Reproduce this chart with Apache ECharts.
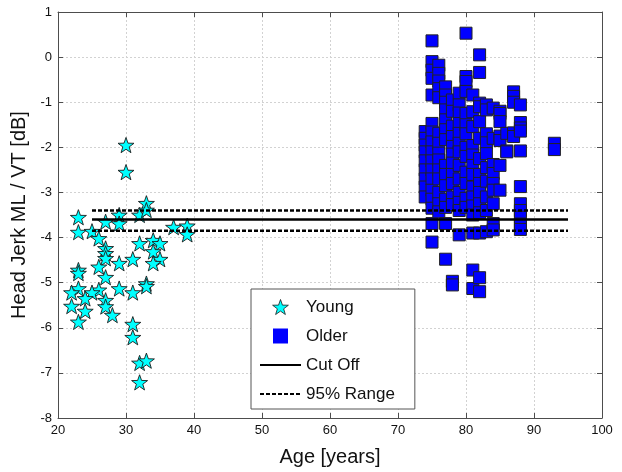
<!DOCTYPE html>
<html>
<head>
<meta charset="utf-8">
<title>Head Jerk vs Age</title>
<script src="https://cdn.jsdelivr.net/npm/echarts@6/dist/echarts.min.js"></script>
<style>
  html, body { margin: 0; padding: 0; background: #fff; }
  #main { width: 622px; height: 472px; }
</style>
</head>
<body>
<div id="main"></div>
<script>
// young subjects: age and value
var youngAges = [23, 23, 25, 27, 29, 29, 32, 33, 33, 37, 39, 39, 26, 27, 27, 27, 32, 34, 35, 34, 35, 34, 31, 29, 26,
  23, 23, 27, 33, 33, 29, 31, 26, 25, 23, 22, 24, 27, 27, 28, 22, 24, 23, 31, 31, 32, 33, 32, 30, 30];
var youngValues = [-3.55, -3.88, -3.86, -3.65, -3.50, -3.69, -3.50, -3.24, -3.39, -3.77, -3.74, -3.93, -4.02, -4.24, -4.35,
  -4.46, -4.13, -4.06, -4.13, -4.31, -4.48, -4.57, -4.48, -4.57, -4.65, -4.72, -4.79, -4.88, -5.02, -5.08, -5.13, -5.22,
  -5.16, -5.22, -5.13, -5.22, -5.35, -5.39, -5.53, -5.72, -5.52, -5.63, -5.87, -5.92, -6.21, -6.78, -6.73, -7.21, -1.95, -2.55];

// older subjects, values grouped by age
var olderAges = [74, 75, 76, 77, 78, 79, 80, 81, 82, 83, 84, 85, 86, 87, 88, 93];
var olderValues = [
  [-1.65, -1.8, -1.95, -2.1, -2.3, -2.5, -2.7, -2.88, -3.1],
  [0.36, -0.10, -0.29, -0.47, -0.84, -1.47, -1.66, -1.88, -2.1, -2.3, -2.5, -2.7, -2.95, -3.15, -3.35, -3.69, -4.1],
  [-0.18, -0.36, -0.53, -0.7, -0.9, -1.69, -1.91, -2.13, -2.28, -2.5, -2.7, -3.0, -3.25, -3.43],
  [-0.66, -0.84, -1.0, -1.17, -1.39, -1.61, -1.83, -2.4, -2.6, -2.85, -3.15, -3.33, -3.69, -4.48],
  [-0.95, -1.2, -1.53, -1.76, -1.98, -2.15, -2.35, -2.6, -2.8, -3.1, -3.27, -4.97, -5.05],
  [-0.80, -1.06, -1.24, -1.47, -1.69, -1.91, -2.1, -2.4, -2.7, -3.0, -3.22, -3.4, -3.94],
  [0.53, -0.43, -0.54, -0.76, -1.25, -1.5, -1.7, -2.0, -2.2, -2.55, -2.8, -3.13, -3.33],
  [-0.84, -1.21, -1.54, -1.96, -2.17, -2.4, -2.6, -2.88, -3.1, -3.3, -3.5, -3.9, -4.72, -5.13],
  [0.05, -0.34, -1.02, -1.1, -1.43, -1.8, -2.25, -2.6, -2.8, -3.0, -3.25, -3.45, -3.9, -4.89, -5.2],
  [-1.06, -1.17, -1.7, -1.9, -2.14, -2.45, -2.75, -3.1, -3.4, -3.87],
  [-1.13, -1.8, -2.38, -2.58, -2.8, -2.95, -3.25, -3.69, -3.83],
  [-1.2, -1.25, -1.43, -1.75, -1.85, -2.4, -2.95],
  [-1.69, -2.08, -2.1],
  [-0.77, -0.87, -1.0, -1.68, -1.76],
  [-1.06, -1.45, -1.57, -1.64, -2.08, -2.87, -3.25, -3.4, -3.55, -3.7, -3.82],
  [-1.91, -2.05]
];

var lineAges = [25, 95];
var cutOff = -3.6;
var rangeLow = -3.85;
var rangeHigh = -3.4;

var xTicks = { min: 20, max: 100, interval: 10 };
var yTicks = { min: -8, max: 1, interval: 1 };

var starPath = 'path://M50 0 L61.76 33.82 L97.55 34.55 L69.02 56.18 L79.39 90.45 L50 70 L20.61 90.45 L30.98 56.18 L2.45 34.55 L38.24 33.82 Z';
var squarePath = 'path://M0 0 H10 V10 H0 Z';
var font = 'Liberation Sans, Arial, sans-serif';

var youngData = youngAges.map(function (a, i) { return [a, youngValues[i]]; });
var olderData = [];
olderAges.forEach(function (a, i) {
  olderValues[i].forEach(function (v) { olderData.push([a, v]); });
});
function flat(v) { return lineAges.map(function (a) { return [a, v]; }); }

var chart = echarts.init(document.getElementById('main'));

var axisColor = '#4d4d4d';
function mainAxis(t, name, gap) {
  return {
    type: 'value', min: t.min, max: t.max, interval: t.interval,
    name: name, nameLocation: 'middle', nameGap: gap,
    nameTextStyle: { fontSize: 20, color: '#111', fontFamily: font },
    axisLine: { show: true, onZero: false, lineStyle: { color: axisColor, width: 1 } },
    axisTick: { show: true, inside: true, length: 5, lineStyle: { color: axisColor } },
    axisLabel: { color: '#111', fontSize: 13, fontFamily: font, margin: 6 },
    splitLine: { show: true, lineStyle: { color: '#d2d2d2', type: [2, 2], width: 1 } }
  };
}
function sideAxis(t, pos) {
  return {
    type: 'value', min: t.min, max: t.max, interval: t.interval, position: pos,
    axisLine: { show: true, onZero: false, lineStyle: { color: axisColor, width: 1 } },
    axisTick: { show: true, inside: true, length: 5, lineStyle: { color: axisColor } },
    axisLabel: { show: false },
    splitLine: { show: false }
  };
}

var xMain = mainAxis(xTicks, 'Age [years]', 29);
xMain.position = 'bottom';
var yMain = mainAxis(yTicks, 'Head Jerk ML / VT [dB]', 24);
yMain.position = 'left';

chart.setOption({
  backgroundColor: '#fff',
  animation: false,
  grid: { left: 58, right: 20, top: 12, bottom: 54 },
  xAxis: [xMain, sideAxis(xTicks, 'top')],
  yAxis: [yMain, sideAxis(yTicks, 'right')],
  legend: {
    orient: 'vertical',
    left: 251, top: 289,
    padding: [9, 20, 6, 8],
    itemWidth: 41, itemHeight: 15, itemGap: 11,
    backgroundColor: '#fff',
    borderColor: '#555', borderWidth: 1,
    itemStyle: { borderWidth: 0.8 },
    textStyle: { fontSize: 17, color: '#111', fontFamily: font, lineHeight: 18 },
    data: [
      { name: 'Young', icon: starPath, itemStyle: { borderWidth: 0.8, borderColor: '#1a1a1a' } },
      { name: 'Older', icon: squarePath, itemStyle: { borderWidth: 0 } },
      { name: 'Cut Off', itemStyle: { opacity: 0 } },
      { name: '95% Range', itemStyle: { opacity: 0 } }
    ]
  },
  series: [
    {
      name: 'Young', type: 'scatter', data: youngData,
      symbol: starPath, symbolSize: 16, symbolKeepAspect: true,
      itemStyle: { color: '#00ffff', borderColor: '#1a1a1a', borderWidth: 0.9, opacity: 1 }
    },
    {
      name: 'Older', type: 'scatter', data: olderData,
      symbol: 'rect', symbolSize: 12,
      itemStyle: { color: '#0000ff', borderColor: '#222', borderWidth: 1, opacity: 1 }
    },
    {
      name: 'Cut Off', type: 'line', data: flat(cutOff), symbol: 'none', z: 5,
      lineStyle: { color: '#000', width: 2.5, type: 'solid' }, itemStyle: { color: '#000' }
    },
    {
      name: '95% Range', type: 'line', data: flat(rangeHigh), symbol: 'none', z: 5,
      lineStyle: { color: '#000', width: 2.5, type: [4, 2] }, itemStyle: { color: '#000' }
    },
    {
      name: '95% Range', type: 'line', data: flat(rangeLow), symbol: 'none', z: 5,
      lineStyle: { color: '#000', width: 2.5, type: [4, 2] }, itemStyle: { color: '#000' }
    }
  ]
});
</script>
</body>
</html>
